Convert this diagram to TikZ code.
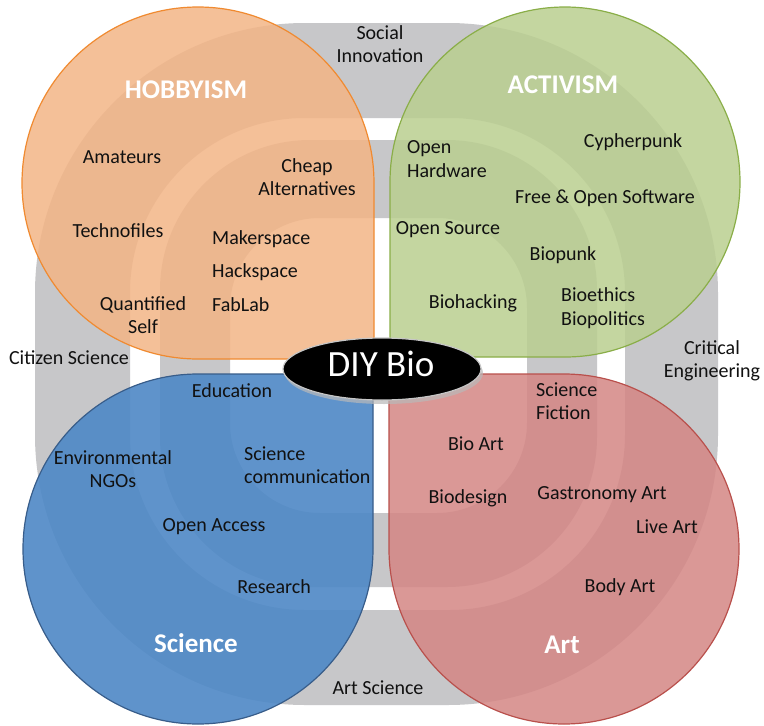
\documentclass[tikz,border=0pt]{standalone}
\usepackage{fontspec}
\setmainfont{Carlito}
\usetikzlibrary{shapes.geometric}
\definecolor{ringgray}{HTML}{C7C7C9}
\definecolor{orangeF}{HTML}{F3B586}
\definecolor{orangeD}{HTML}{F08A30}
\definecolor{greenF}{HTML}{BACF90}
\definecolor{greenD}{HTML}{8AAE48}
\definecolor{blueF}{HTML}{4E88C6}
\definecolor{blueD}{HTML}{385D8A}
\definecolor{redF}{HTML}{D48684}
\definecolor{redD}{HTML}{B9504C}
\definecolor{txt}{HTML}{111111}
\begin{document}
\begin{tikzpicture}[x=1pt,y=-1pt,
  lbl/.style={font=\fontsize{20}{23.5}\selectfont, text=txt, align=center, inner sep=0pt},
  lbll/.style={lbl, align=left, anchor=west},
  ttl/.style={font=\fontsize{27}{30}\selectfont\bfseries, text=white, inner sep=0pt},
  ring/.style={fill=ringgray, even odd rule},
  petalO/.style={fill=orangeF, fill opacity=0.85, draw=orangeD, line width=1.2pt},
  petalG/.style={fill=greenF, fill opacity=0.85, draw=greenD, line width=1.2pt},
  petalB/.style={fill=blueF, fill opacity=0.9, draw=blueD, line width=1.2pt},
  petalR/.style={fill=redF, fill opacity=0.85, draw=redD, line width=1.2pt},
  hub/.style={ellipse, fill=black, draw=gray!45, line width=1.2pt, minimum width=198pt, minimum height=62pt, inner sep=0pt}
]
\useasboundingbox (0,0) rectangle (764,726);
\fill[white] (0,0) rectangle (764,726);

% background rings
\path[ring] [rounded corners=270pt] (35,23) rectangle (718,705)
            [rounded corners=175pt] (130,118) rectangle (625,610);
\path[ring] [rounded corners=150pt] (160,140) rectangle (597,587)
            [rounded corners=90pt] (230,218) rectangle (527,513);

% petals
\draw[petalO] (374,183) -- (374,359) -- (198,359) arc[start angle=90, end angle=360, radius=176] -- cycle;
\draw[petalG] (390,182) -- (390,357) -- (565,357) arc[start angle=90, end angle=-180, radius=175] -- cycle;
\draw[petalB] (373,549) -- (373,374) -- (198,374) arc[start angle=-90, end angle=-360, radius=175] -- cycle;
\draw[petalR] (389,549) -- (389,374) -- (564,374) arc[start angle=-90, end angle=180, radius=175] -- cycle;

% hub
\fill[gray!55, opacity=0.7] (384,373) ellipse [x radius=99, y radius=31];
\node[hub] (hub) at (382,369) {};
\node[font=\fontsize{37}{40}\selectfont, text=white, inner sep=0pt] (hubtext) at (381,364) {DIY Bio};

% ring labels
\node[lbl] (social) at (380,44) {Social\\Innovation};
\node[lbl] (citizen) at (69,358) {Citizen Science};
\node[lbl] (critical) at (712,361) {Critical\\Engineering};
\node[lbl] (artsci) at (378,688) {Art Science};

% titles
\node[ttl] (hobby) at (186,90) {HOBBYISM};
\node[ttl] (activ) at (563,85) {ACTIVISM};
\node[ttl] (sci) at (196,643) {Science};
\node[ttl] (art) at (562,645) {Art};

% hobbyism
\node[lbl] (amateurs) at (122,157) {Amateurs};
\node[lbl] (cheap) at (307,177) {Cheap\\Alternatives};
\node[lbl] (techno) at (118,231) {Technofiles};
\node[lbll] (maker) at (212,239) {Makerspace};
\node[lbll] (hack) at (212,272) {Hackspace};
\node[lbll] (fab) at (212,305) {FabLab};
\node[lbl] (quant) at (143,315) {Quantified\\Self};

% activism
\node[lbll] (openhw) at (407,159) {Open\\Hardware};
\node[lbl] (cypher) at (633,142) {Cypherpunk};
\node[lbl] (foss) at (605,198) {Free \& Open Software};
\node[lbl] (opensrc) at (448,230) {Open Source};
\node[lbl] (biopunk) at (563,255) {Biopunk};
\node[lbl] (biohack) at (473,303) {Biohacking};
\node[lbll] (bioeth) at (561,308) {Bioethics\\Biopolitics};

% science
\node[lbl] (edu) at (232,391) {Education};
\node[lbl] (ngo) at (113,469) {Environmental\\NGOs};
\node[lbll] (scicom) at (244,465) {Science\\communication};
\node[lbl] (openacc) at (214,527) {Open Access};
\node[lbl] (research) at (274,587) {Research};

% art
\node[lbll] (scifi) at (536,401) {Science\\Fiction};
\node[lbl] (bioart) at (476,444) {Bio Art};
\node[lbl] (biodes) at (468,498) {Biodesign};
\node[lbl] (gastro) at (602,495) {Gastronomy Art};
\node[lbl] (live) at (667,527) {Live Art};
\node[lbl] (body) at (620,587) {Body Art};
\end{tikzpicture}
\end{document}
